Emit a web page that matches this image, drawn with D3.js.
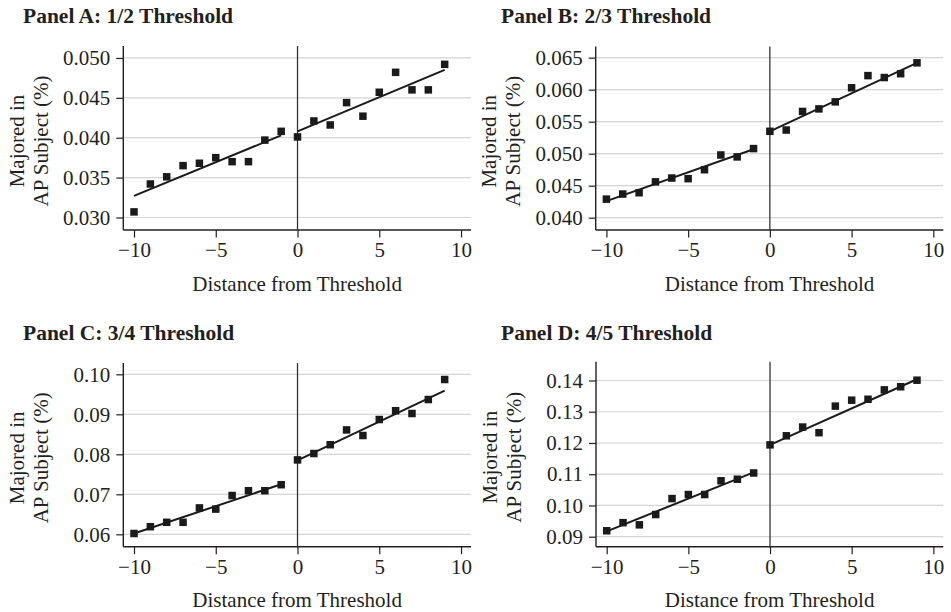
<!DOCTYPE html>
<html>
<head>
<meta charset="utf-8">
<script src="https://cdn.jsdelivr.net/npm/d3@7"></script>
<style>
  html, body { margin: 0; padding: 0; background: #fff; }
  svg { display: block; }
</style>
</head>
<body>
<svg id="chart" width="951" height="612"></svg>
<script>
// ---- Data ----
const distance = [-10, -9, -8, -7, -6, -5, -4, -3, -2, -1, 0, 1, 2, 3, 4, 5, 6, 7, 8, 9];

const panelTitles = ["Panel A: 1/2 Threshold", "Panel B: 2/3 Threshold", "Panel C: 3/4 Threshold", "Panel D: 4/5 Threshold"];

const valuesA = [0.0307, 0.0342, 0.0351, 0.0365, 0.0368, 0.0375, 0.0370, 0.0370, 0.0397, 0.0408,
                 0.0401, 0.0421, 0.0416, 0.0444, 0.0427, 0.0457, 0.0482, 0.0460, 0.0460, 0.0492];
const valuesB = [0.0429, 0.0437, 0.0439, 0.0456, 0.0462, 0.0461, 0.0475, 0.0498, 0.0495, 0.0508,
                 0.0535, 0.0537, 0.0566, 0.0570, 0.0581, 0.0603, 0.0622, 0.0619, 0.0625, 0.0642];
const valuesC = [0.0602, 0.0619, 0.0630, 0.0630, 0.0666, 0.0663, 0.0697, 0.0709, 0.0709, 0.0724,
                 0.0786, 0.0802, 0.0824, 0.0861, 0.0847, 0.0887, 0.0909, 0.0902, 0.0937, 0.0987];
const valuesD = [0.0919, 0.0945, 0.0938, 0.0971, 0.1022, 0.1035, 0.1035, 0.1079, 0.1084, 0.1104,
                 0.1194, 0.1223, 0.1251, 0.1233, 0.1318, 0.1337, 0.1340, 0.1370, 0.1380, 0.1401];

// Fitted lines: [value at x=-10, value at x=-1] and [value at x=0, value at x=9]
const fitLeftA = [0.0327, 0.0403], fitRightA = [0.0408, 0.0485];
const fitLeftB = [0.0426, 0.0507], fitRightB = [0.0535, 0.0642];
const fitLeftC = [0.0602, 0.0725], fitRightC = [0.0785, 0.0959];
const fitLeftD = [0.0917, 0.1106], fitRightD = [0.1194, 0.1404];

const yTicksA = [0.030, 0.035, 0.040, 0.045, 0.050];
const yTicksB = [0.040, 0.045, 0.050, 0.055, 0.060, 0.065];
const yTicksC = [0.06, 0.07, 0.08, 0.09, 0.10];
const yTicksD = [0.09, 0.10, 0.11, 0.12, 0.13, 0.14];
const xTicks = [-10, -5, 0, 5, 10];

const xAxisTitle = "Distance from Threshold";
const yAxisTitle = ["Majored in", "AP Subject (%)"];

// ---- Layout ----
const panels = [
  { title: panelTitles[0], values: valuesA, fitL: fitLeftA, fitR: fitRightA, ticks: yTicksA, fmt: ".3f",
    left: 123.3, right: 471, top: 46, bottom: 230, yDomain: [0.02843, 0.05150], titleX: 23, titleY: 23 },
  { title: panelTitles[1], values: valuesB, fitL: fitLeftB, fitR: fitRightB, ticks: yTicksB, fmt: ".3f",
    left: 595.7, right: 943.3, top: 46.5, bottom: 230, yDomain: [0.03808, 0.06675], titleX: 501, titleY: 23 },
  { title: panelTitles[2], values: valuesC, fitL: fitLeftC, fitR: fitRightC, ticks: yTicksC, fmt: ".2f",
    left: 123.3, right: 471, top: 363, bottom: 546.7, yDomain: [0.05690, 0.10283], titleX: 23, titleY: 339.5 },
  { title: panelTitles[3], values: valuesD, fitL: fitLeftD, fitR: fitRightD, ticks: yTicksD, fmt: ".2f",
    left: 596, right: 943.3, top: 361.7, bottom: 546.7, yDomain: [0.08680, 0.14602], titleX: 501, titleY: 340 }
];

const svg = d3.select("#chart");
const textColor = "#231f20";
const serif = "'Liberation Serif', 'Times New Roman', Times, serif";
const fs = 21;

panels.forEach(p => {
  const g = svg.append("g");
  const x = d3.scaleLinear().domain([-10.655, 10.61]).range([p.left, p.right]);
  const y = d3.scaleLinear().domain(p.yDomain).range([p.bottom, p.top]);

  // title
  g.append("text")
    .attr("x", p.titleX).attr("y", p.titleY)
    .attr("font-family", serif).attr("font-weight", "bold").attr("font-size", 21.5)
    .attr("fill", textColor)
    .text(p.title);

  // gridlines
  g.append("g").selectAll("line").data(p.ticks).join("line")
    .attr("x1", p.left).attr("x2", p.right)
    .attr("y1", d => y(d)).attr("y2", d => y(d))
    .attr("stroke", "#d4d4d4").attr("stroke-width", 1.2);

  // y axis
  const yAxis = d3.axisLeft(y).tickValues(p.ticks).tickFormat(d3.format(p.fmt)).tickSize(7).tickPadding(6);
  const ya = g.append("g").attr("transform", `translate(${p.left},0)`).call(yAxis);
  ya.select(".domain").attr("d", `M0,${p.top}V${p.bottom}`).attr("stroke", textColor).attr("stroke-width", 1.4);
  ya.selectAll(".tick line").attr("stroke", textColor).attr("stroke-width", 1.2);
  ya.selectAll(".tick text").attr("font-family", serif).attr("font-size", fs).attr("fill", textColor);

  // x axis
  const xAxis = d3.axisBottom(x).tickValues(xTicks).tickFormat(d3.format("d")).tickSize(7.5).tickPadding(5);
  const xa = g.append("g").attr("transform", `translate(0,${p.bottom})`).call(xAxis);
  xa.select(".domain").attr("d", `M${p.left},0H${p.right}`).attr("stroke", textColor).attr("stroke-width", 1.4);
  xa.selectAll(".tick line").attr("stroke", textColor).attr("stroke-width", 1.2);
  xa.selectAll(".tick text").attr("font-family", serif).attr("font-size", fs).attr("fill", textColor);

  // threshold line at 0
  g.append("line")
    .attr("x1", x(0)).attr("x2", x(0)).attr("y1", p.top).attr("y2", p.bottom)
    .attr("stroke", "#333").attr("stroke-width", 1.3);

  // x axis title
  g.append("text")
    .attr("x", (p.left + p.right) / 2).attr("y", p.bottom + 60.5)
    .attr("text-anchor", "middle")
    .attr("font-family", serif).attr("font-size", fs).attr("fill", textColor)
    .text(xAxisTitle);

  // y axis title (two lines, rotated)
  const cy = (p.top + p.bottom) / 2 + 3;
  yAxisTitle.forEach((t, i) => {
    g.append("text")
      .attr("transform", `translate(${p.left - 106.5 + i * 24},${cy}) rotate(-90)`)
      .attr("text-anchor", "middle").attr("dominant-baseline", "central")
      .attr("font-family", serif).attr("font-size", fs).attr("fill", textColor)
      .text(t);
  });

  // fitted lines
  const lineGen = d3.line().x(d => x(d[0])).y(d => y(d[1]));
  const leftSeg = [[distance[0], p.fitL[0]], [distance[9], p.fitL[1]]];
  const rightSeg = [[distance[10], p.fitR[0]], [distance[19], p.fitR[1]]];
  [leftSeg, rightSeg].forEach(seg => {
    g.append("path").attr("d", lineGen(seg))
      .attr("fill", "none").attr("stroke", "#1a1a1a").attr("stroke-width", 2);
  });

  // squares
  const s = 7.5;
  g.append("g").selectAll("rect").data(distance.map((d, i) => [d, p.values[i]])).join("rect")
    .attr("x", d => x(d[0]) - s / 2).attr("y", d => y(d[1]) - s / 2)
    .attr("width", s).attr("height", s)
    .attr("fill", "#1a1a1a");
});
</script>
</body>
</html>
